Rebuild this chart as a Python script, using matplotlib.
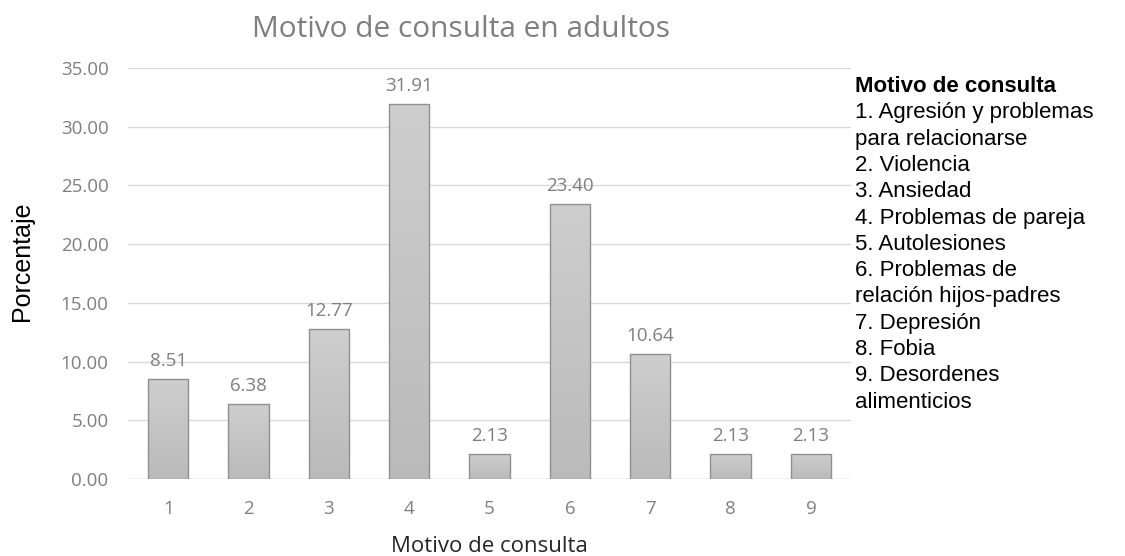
import matplotlib
matplotlib.use("Agg")
import matplotlib.pyplot as plt
import numpy as np
from matplotlib.colors import LinearSegmentedColormap

# Motivo de consulta (categorías) y porcentajes
categorias = ["1", "2", "3", "4", "5", "6", "7", "8", "9"]
porcentajes = [8.51, 6.38, 12.77, 31.91, 2.13, 23.40, 10.64, 2.13, 2.13]
yticks = [0, 5, 10, 15, 20, 25, 30, 35]

leyenda_titulo = "Motivo de consulta"
leyenda_lineas = [
    "1. Agresión y problemas",
    "para relacionarse",
    "2. Violencia",
    "3. Ansiedad",
    "4. Problemas de pareja",
    "5. Autolesiones",
    "6. Problemas de",
    "relación hijos-padres",
    "7. Depresión",
    "8. Fobia",
    "9. Desordenes",
    "alimenticios",
]

gris_texto = "#7f7f7f"
ui_font = ["Open Sans", "DejaVu Sans"]
arial = ["Liberation Sans", "DejaVu Sans"]

fig = plt.figure(figsize=(11.25, 5.56), dpi=100)
ax = fig.add_axes([0.1138, 0.1385, 0.6427, 0.7392])

x = np.arange(len(categorias))
barras = ax.bar(x, porcentajes, width=0.5, color="none", edgecolor="#8f8f8f",
                linewidth=1.0, zorder=4)

# Relleno degradado (claro arriba, más oscuro abajo) recortado a cada barra
degradado = LinearSegmentedColormap.from_list("gris", ["#bababa", "#cecece"])
grad = np.linspace(0, 1, 256).reshape(-1, 1)
for b in barras:
    x0, y0 = b.get_x(), b.get_y()
    w, h = b.get_width(), b.get_height()
    im = ax.imshow(grad, extent=[x0, x0 + w, y0, y0 + h], origin="lower",
                   cmap=degradado, aspect="auto", zorder=3,
                   interpolation="bilinear")
    im.set_clip_path(b)

for xi, v in zip(x, porcentajes):
    ax.text(xi, v + 0.75, f"{v:.2f}", ha="center", va="bottom",
            fontsize=13.5, color=gris_texto, family=ui_font)

ax.set_xlim(-0.5, len(categorias) - 0.5)
ax.set_ylim(0, 35)
ax.set_aspect("auto")
ax.set_yticks(yticks)
ax.set_yticklabels([f"{t:.2f}" for t in yticks], family=ui_font,
                   fontsize=13.5, color=gris_texto)
ax.set_xticks(x)
ax.set_xticklabels(categorias, family=ui_font, fontsize=13.5, color=gris_texto)
ax.tick_params(axis="x", length=0, pad=15)
ax.tick_params(axis="y", length=0, pad=14)

ax.grid(axis="y", color="#d9d9d9", linewidth=1.0, zorder=0)
ax.set_axisbelow(True)
for s in ax.spines.values():
    s.set_visible(False)
ax.axhline(0, color="#d9d9d9", linewidth=1.0, zorder=2)

ax.set_xlabel("Motivo de consulta", family=ui_font, fontsize=16,
              color="#262626", labelpad=13)
fig.text(0.020, 0.530, "Porcentaje", rotation=90, ha="center", va="center",
         family=arial, fontsize=18, color="black")

fig.text(0.4098, 0.9335, "Motivo de consulta en adultos", ha="center",
         va="baseline", family=ui_font, fontsize=21.5, color=gris_texto)

# Leyenda descriptiva a la derecha
lx = 0.760
ly = 0.8345
paso = 0.0473
fig.text(lx, ly, leyenda_titulo, ha="left", va="baseline", family=arial,
         fontsize=16, fontweight="bold", color="black")
for i, linea in enumerate(leyenda_lineas, start=1):
    fig.text(lx, ly - i * paso, linea, ha="left", va="baseline", family=arial,
             fontsize=16, color="black")

fig.savefig("out.png", dpi=100)
